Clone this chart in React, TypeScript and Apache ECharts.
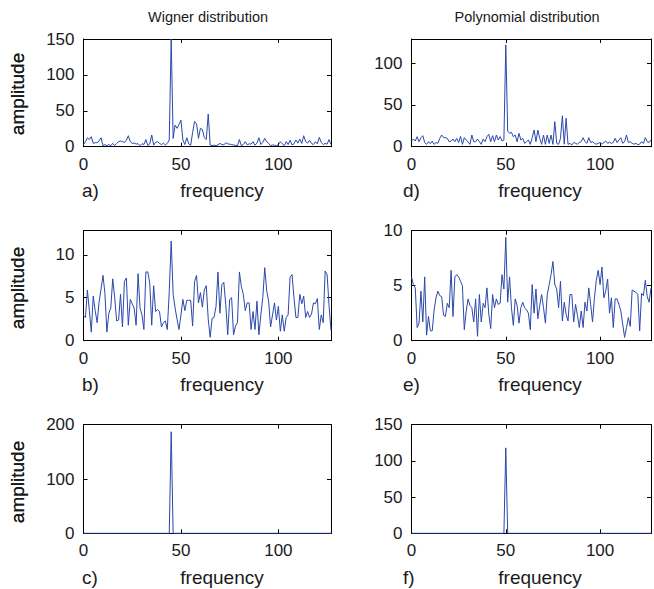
import React, { useEffect, useRef } from "react";
import * as echarts from "echarts";

// Wigner distribution, panel a)
const wignerA = [
  3, 7, 12.5, 10, 14, 4.6, 5.6, 5.6, 8, 12.5,
  1.4, 3, 1.4, 3, 1.4, 4.6, 1.4, 4.6, 7, 8,
  7, 6, 9, 15.3, 7, 4.6, 5, 3.7, 4.2, 1.4,
  4.2, 3, 10, 1.4, 4, 16.3, 2.3, 6, 7, 4.6,
  3, 5, 2.3, 4.6, 9.3, 150, 11.6, 30, 25.6, 31,
  37, 9.3, 3, 12.5, 4, 2, 20, 35, 32, 11.6,
  25.6, 24, 12.5, 10, 45.6, 2.3, 1.4, 2.3, 1.4, 2.5,
  4.6, 3, 2.5, 5.6, 4, 3.5, 3, 2.3, 2, 1.4,
  10, 1.4, 3, 7, 2.5, 4, 3.5, 7, 2, 5,
  12.5, 3, 6, 11.6, 7, 4.6, 1.4, 2.5, 2, 1.4,
  3, 7, 4, 1.4, 7, 3, 9, 2.5, 4, 9.3,
  5, 10.7, 4.6, 15.3, 7, 5, 9, 4.6, 3, 7,
  4, 13, 6, 3, 4.6, 3.5, 10, 3,
];

// Wigner distribution, panel b)
const wignerB = [
  2.9, 2.7, 5.9, 3.5, 1.0, 5.2, 3.5, 2.1, 4.5, 6.0,
  7.6, 5.5, 1.0, 3.2, 3.8, 7.2, 5.0, 2.3, 2.4, 5.4,
  1.6, 6.9, 7.3, 1.8, 4.8, 4.3, 3.8, 1.8, 7.8, 3.8,
  3.0, 1.3, 8.0, 8.0, 6.7, 1.8, 6.4, 3.4, 3.6, 3.4,
  1.6, 2.1, 2.3, 1.3, 5.7, 11.6, 5.4, 3.8, 2.5, 1.3,
  3.0, 4.8, 3.5, 4.7, 4.7, 4.7, 1.7, 6.9, 7.6, 4.4,
  5.6, 3.9, 5.9, 6.4, 2.5, 0.4, 2.6, 2.7, 4.0, 8.0,
  3.2, 6.5, 6.8, 4.2, 0.7, 4.8, 5.0, 0.7, 1.7, 2.1,
  8.0, 6.3, 5.4, 3.5, 4.4, 4.4, 1.3, 3.4, 1.3, 4.6,
  0.7, 3.0, 5.0, 8.5, 5.8, 4.6, 1.6, 3.0, 4.4, 2.4,
  4.0, 1.1, 3.0, 1.1, 2.7, 3.0, 7.4, 7.7, 5.0, 2.7,
  2.7, 5.4, 4.3, 5.2, 2.7, 3.4, 2.7, 3.1, 4.4, 4.3,
  4.9, 1.3, 3.0, 2.1, 8.1, 7.7, 4.1, 1.2,
];

// Wigner distribution, panel c)
const wignerC = [
  0, 0, 0, 0, 0, 0, 0, 0, 0, 0,
  0, 0, 0, 0, 0, 0, 0, 0, 0, 0,
  0, 0, 0, 0, 0, 0, 0, 0, 0, 0,
  0, 0, 0, 0, 0, 0, 0, 0, 0, 0,
  0, 0, 0, 0, 0, 187, 0, 0, 0, 0,
  0, 0, 0, 0, 0, 0, 0, 0, 0, 0,
  0, 0, 0, 0, 0, 0, 0, 0, 0, 0,
  0, 0, 0, 0, 0, 0, 0, 0, 0, 0,
  0, 0, 0, 0, 0, 0, 0, 0, 0, 0,
  0, 0, 0, 0, 0, 0, 0, 0, 0, 0,
  0, 0, 0, 0, 0, 0, 0, 0, 0, 0,
  0, 0, 0, 0, 0, 0, 0, 0, 0, 0,
  0, 0, 0, 0, 0, 0, 0, 0,
];

// Polynomial distribution, panel d)
const polyD = [
  6.8, 9.2, 6.8, 12, 6, 10.8, 13.2, 5, 2.8, 6,
  3.6, 6.8, 2.8, 5, 4, 10, 14, 11, 10.8, 10,
  6, 6.8, 9.2, 6, 10, 5, 12.4, 2.8, 10.8, 8,
  6, 2.8, 14, 6, 6, 9.2, 6, 2.8, 9.2, 6,
  12, 14.8, 6, 13.2, 6, 14, 8, 12, 6.8, 8,
  122, 18.8, 16, 17.2, 12, 14, 6, 16, 8, 10,
  4, 6, 8, 2.8, 10.8, 20, 6, 20, 10, 2.8,
  14, 2.8, 14, 4, 14, 2.8, 30, 4, 2.8, 10,
  37, 3, 34, 2.8, 4, 2, 5, 4, 3, 5,
  6, 10.8, 6, 4, 10.8, 5, 6, 4, 3, 4,
  5, 3, 5, 6.8, 4, 5.5, 4, 5, 10, 5,
  8, 10.8, 4, 6, 14, 5, 6, 4, 3, 4,
  2.5, 3, 6, 4, 10.8, 6, 5, 8,
];

// Polynomial distribution, panel e)
const polyE = [
  5.8, 5.1, 4.8, 1.2, 1.6, 4.5, 1.7, 5.8, 0.5, 2.2,
  0.9, 0.9, 2.8, 3.9, 4.5, 4.1, 4.0, 2.3, 2.2, 3.4,
  3.0, 6.4, 2.2, 5.8, 6.0, 5.8, 5.4, 5.0, 1.0, 2.7,
  3.8, 3.2, 3.0, 1.7, 3.8, 0.4, 4.2, 1.7, 3.4, 3.0,
  4.8, 2.4, 1.1, 4.2, 3.0, 3.8, 3.3, 3.4, 6.0, 4.7,
  9.4, 3.5, 5.8, 3.0, 1.4, 3.8, 3.2, 1.6, 3.0, 3.5,
  3.0, 2.8, 2.5, 1.0, 5.1, 2.5, 4.7, 2.0, 3.2, 4.2,
  3.0, 1.6, 4.2, 5.1, 6.0, 7.2, 5.1, 4.7, 3.0, 5.4,
  1.8, 3.5, 2.4, 1.8, 4.2, 4.2, 1.7, 3.3, 2.3, 1.2,
  2.7, 1.2, 3.5, 2.7, 4.8, 3.3, 1.7, 3.9, 5.5, 6.4,
  5.1, 6.7, 3.9, 4.5, 5.6, 2.5, 3.9, 1.2, 3.8, 3.8,
  3.3, 2.7, 1.5, 0.3, 1.2, 2.1, 1.3, 4.6, 4.5, 4.4,
  4.2, 0.9, 4.3, 4.1, 5.5, 4.0, 3.5, 4.8,
];

// Polynomial distribution, panel f)
const polyF = [
  0, 0, 0, 0, 0, 0, 0, 0, 0, 0,
  0, 0, 0, 0, 0, 0, 0, 0, 0, 0,
  0, 0, 0, 0, 0, 0, 0, 0, 0, 0,
  0, 0, 0, 0, 0, 0, 0, 0, 0, 0,
  0, 0, 0, 0, 0, 0, 0, 0, 0, 0,
  118, 0, 0, 0, 0, 0, 0, 0, 0, 0,
  0, 0, 0, 0, 0, 0, 0, 0, 0, 0,
  0, 0, 0, 0, 0, 0, 0, 0, 0, 0,
  0, 0, 0, 0, 0, 0, 0, 0, 0, 0,
  0, 0, 0, 0, 0, 0, 0, 0, 0, 0,
  0, 0, 0, 0, 0, 0, 0, 0, 0, 0,
  0, 0, 0, 0, 0, 0, 0, 0, 0, 0,
  0, 0, 0, 0, 0, 0, 0, 0,
];

const columnTitles = ["Wigner distribution", "Polynomial distribution"];
const panelLetters = ["a)", "b)", "c)", "d)", "e)", "f)"];
const xTickStep = 50;
const xMax = 127;
const yMaxes = [150, 12.8, 200, 129, 10, 150];
const yTickSteps = [50, 5, 100, 50, 5, 50];
const xName = "frequency";
const yName = "amplitude";

const FONT = "'Liberation Sans', Arial, Helvetica, sans-serif";
const LINE_COLOR = "#2a48aa";
const TEXT_COLOR = "#1a1a1a";
const TICK_FONT = 17;
const NAME_FONT = 19;
const TITLE_FONT = 14.5;

const COLS = [
  { left: 83.5, width: 247.5, titleX: 208, nameX: 222, letterX: 82 },
  { left: 411.5, width: 248.5, titleX: 527, nameX: 540, letterX: 403 },
];
const ROWS = [
  { top: 39, height: 107.7, nameY: 190, yNameY: 94 },
  { top: 230.7, height: 110, nameY: 384, yNameY: 288 },
  { top: 424.7, height: 108.6, nameY: 577, yNameY: 482 },
];

export default function App() {
  const ref = useRef<HTMLDivElement>(null);

  useEffect(() => {
    if (!ref.current) return;
    const chart = echarts.init(ref.current, undefined, { renderer: "svg" });
    const datasets = [wignerA, wignerB, wignerC, polyD, polyE, polyF];

    const grids: any[] = [];
    const xAxes: any[] = [];
    const yAxes: any[] = [];
    const series: any[] = [];
    const graphics: any[] = [];

    datasets.forEach((data, i) => {
      const col = COLS[Math.floor(i / 3)];
      const row = ROWS[i % 3];
      grids.push({
        left: col.left,
        top: row.top,
        width: col.width,
        height: row.height,
        containLabel: false,
        show: false,
      });
      const axisLine = { show: true, onZero: false, lineStyle: { color: "#000", width: 1 } };
      const axisTick = { show: true, inside: true, length: 4, lineStyle: { color: "#000", width: 1 } };
      const ystep = yTickSteps[i];
      const xBase = {
        type: "value",
        gridIndex: i,
        min: 0,
        max: xMax,
        interval: xTickStep,
        axisLine,
        axisTick,
        splitLine: { show: false },
      };
      xAxes.push({
        ...xBase,
        position: "bottom",
        axisLabel: {
          show: true,
          color: TEXT_COLOR,
          fontSize: TICK_FONT,
          fontFamily: FONT,
          margin: 9,
          formatter: (v: number) => (v % xTickStep === 0 ? String(v) : ""),
        },
      });
      xAxes.push({ ...xBase, position: "top", axisLabel: { show: false } });
      const yBase = {
        type: "value",
        gridIndex: i,
        min: 0,
        max: yMaxes[i],
        interval: ystep,
        axisLine,
        axisTick,
        splitLine: { show: false },
      };
      yAxes.push({
        ...yBase,
        position: "left",
        axisLabel: {
          show: true,
          color: TEXT_COLOR,
          fontSize: TICK_FONT,
          fontFamily: FONT,
          margin: 9,
          formatter: (v: number) => (Math.abs(v / ystep - Math.round(v / ystep)) < 1e-6 ? String(v) : ""),
        },
      });
      yAxes.push({ ...yBase, position: "right", axisLabel: { show: false } });

      series.push({
        type: "line",
        xAxisIndex: i * 2,
        yAxisIndex: i * 2,
        data: data.map((v, k) => [k, v]),
        showSymbol: false,
        symbol: "none",
        clip: true,
        lineStyle: { color: LINE_COLOR, width: 1 },
        itemStyle: { color: LINE_COLOR },
      });

      graphics.push({
        type: "text",
        x: 17,
        y: row.yNameY,
        rotation: Math.PI / 2,
        style: {
          text: yName,
          fontSize: NAME_FONT,
          fontFamily: FONT,
          fill: TEXT_COLOR,
          align: "center",
          verticalAlign: "middle",
        },
      });
      graphics.push({
        type: "text",
        x: col.nameX,
        y: row.nameY,
        style: {
          text: xName,
          fontSize: NAME_FONT,
          fontFamily: FONT,
          fill: TEXT_COLOR,
          align: "center",
          verticalAlign: "middle",
        },
      });
      graphics.push({
        type: "text",
        x: col.letterX,
        y: row.nameY,
        style: {
          text: panelLetters[i],
          fontSize: NAME_FONT,
          fontFamily: FONT,
          fill: TEXT_COLOR,
          align: "left",
          verticalAlign: "middle",
        },
      });
    });

    columnTitles.forEach((t, c) => {
      graphics.push({
        type: "text",
        x: COLS[c].titleX,
        y: 17,
        style: {
          text: t,
          fontSize: TITLE_FONT,
          fontFamily: FONT,
          fill: TEXT_COLOR,
          align: "center",
          verticalAlign: "middle",
        },
      });
    });

    chart.setOption({
      animation: false,
      backgroundColor: "#ffffff",
      grid: grids,
      xAxis: xAxes,
      yAxis: yAxes,
      series,
      graphic: graphics,
    });

    return () => chart.dispose();
  }, []);

  return (
    <div
      ref={ref}
      style={{ position: "fixed", left: 0, top: 0, width: 654, height: 589, background: "#fff" }}
    />
  );
}
